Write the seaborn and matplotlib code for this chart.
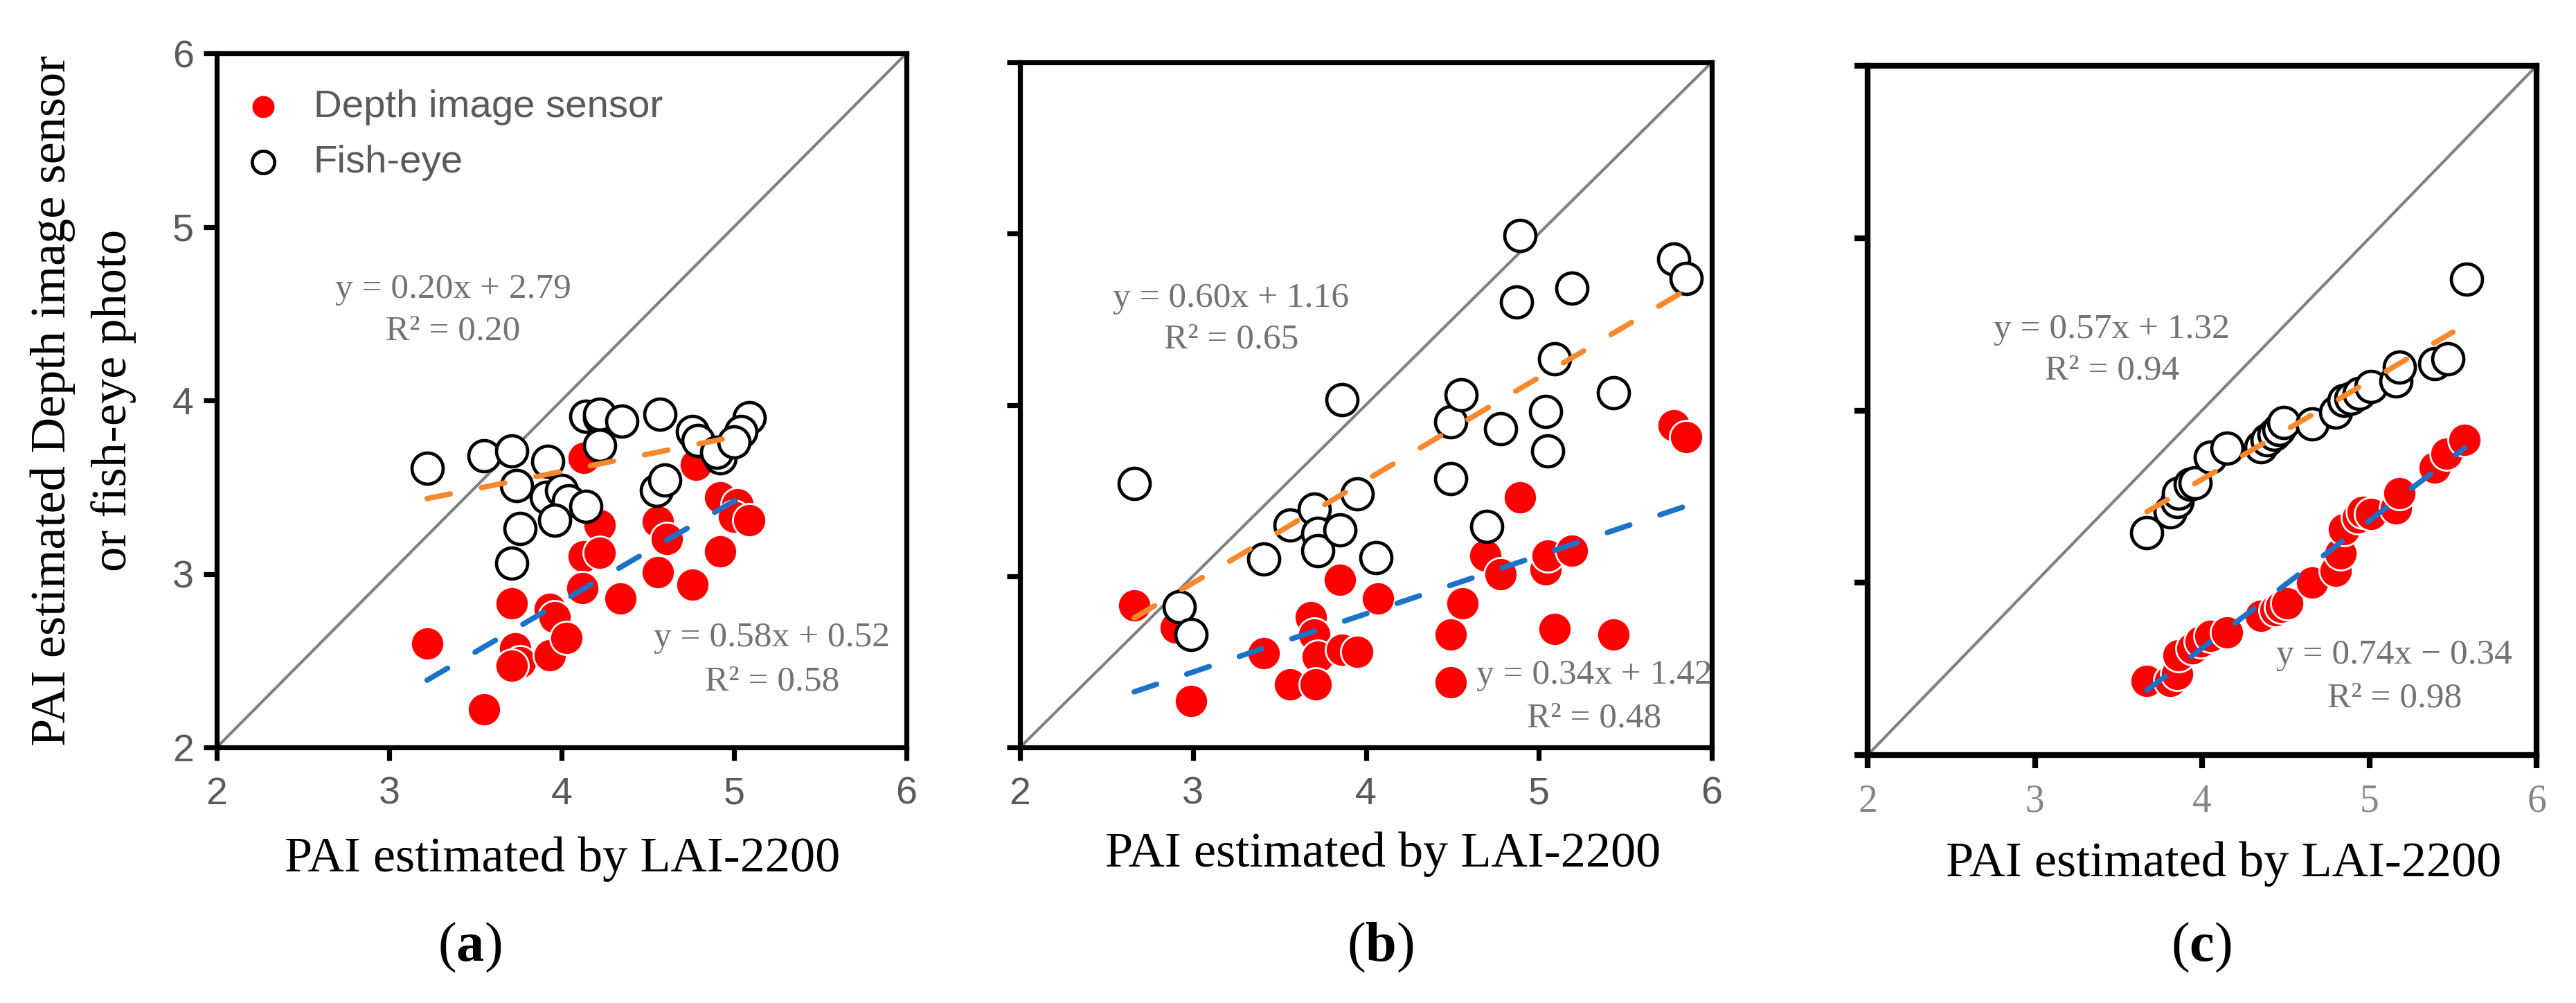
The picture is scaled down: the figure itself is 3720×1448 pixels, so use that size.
import numpy as np
import pandas as pd
import matplotlib
matplotlib.use("Agg")
import matplotlib.pyplot as plt
import seaborn as sns

# ---------------- data ----------------
# Panel (a)
a_depth_x = [3.22, 3.55, 3.71, 3.73, 3.76, 3.71, 3.93, 3.96, 3.93, 4.03, 4.13, 4.22, 4.13,
             4.22, 4.12, 4.34, 4.56, 4.61, 4.56, 4.76, 4.78, 4.92, 5.02, 5.00, 5.09, 4.92]
a_depth_y = [2.60, 2.22, 2.83, 2.57, 2.49, 2.47, 2.80, 2.75, 2.53, 2.63, 3.67, 3.28, 3.10,
             3.12, 2.92, 2.86, 3.30, 3.20, 3.01, 2.94, 3.63, 3.44, 3.40, 3.33, 3.31, 3.13]
a_fish_x = [3.22, 3.55, 3.71, 3.74, 3.76, 3.71, 3.92, 3.91, 4.00, 4.04, 4.14, 3.96, 4.14,
            4.22, 4.22, 4.35, 4.22, 4.57, 4.55, 4.60, 4.76, 4.79, 4.92, 4.90, 5.09, 5.04, 5.00]
a_fish_y = [3.61, 3.68, 3.71, 3.51, 3.26, 3.06, 3.65, 3.44, 3.48, 3.42, 3.39, 3.31, 3.91,
            3.90, 3.92, 3.88, 3.74, 3.92, 3.48, 3.54, 3.82, 3.77, 3.67, 3.70, 3.90, 3.82, 3.76]

# Panel (b)
b_depth_x = [2.66, 2.90, 2.99, 3.41, 3.56, 3.68, 3.70, 3.72, 3.71, 3.85, 3.86, 3.95, 4.07,
             4.49, 4.49, 4.56, 4.69, 4.78, 4.89, 5.04, 5.05, 5.09, 5.19, 5.43, 5.78, 5.85]
b_depth_y = [2.83, 2.70, 2.27, 2.55, 2.37, 2.76, 2.66, 2.53, 2.37, 2.98, 2.57, 2.56, 2.87,
             2.66, 2.38, 2.84, 3.12, 3.01, 3.46, 3.04, 3.12, 2.69, 3.15, 2.66, 3.88, 3.81]
b_fish_x = [2.66, 2.92, 2.99, 3.41, 3.56, 3.70, 3.72, 3.72, 3.85, 3.86, 3.95, 4.06, 4.49,
            4.49, 4.55, 4.70, 4.78, 4.87, 4.89, 5.04, 5.05, 5.09, 5.19, 5.43, 5.78, 5.85]
b_fish_y = [3.54, 2.82, 2.66, 3.10, 3.30, 3.39, 3.25, 3.15, 3.27, 4.03, 3.48, 3.11, 3.57,
            3.90, 4.06, 3.29, 3.86, 4.60, 4.99, 3.96, 3.73, 4.27, 4.68, 4.07, 4.85, 4.74]

# Panel (c)
c_depth_x = [3.67, 3.81, 3.85, 3.86, 3.94, 3.99, 4.05, 4.15, 4.35, 4.44, 4.47, 4.51, 4.66,
             4.80, 4.83, 4.85, 4.93, 4.96, 5.01, 5.16, 5.18, 5.39, 5.46, 5.57]
c_depth_y = [2.43, 2.43, 2.47, 2.58, 2.62, 2.66, 2.69, 2.71, 2.81, 2.84, 2.86, 2.88, 3.00,
             3.07, 3.17, 3.31, 3.38, 3.41, 3.40, 3.43, 3.52, 3.67, 3.75, 3.83]
c_fish_x = [3.67, 3.81, 3.85, 3.86, 3.93, 3.96, 4.05, 4.15, 4.35, 4.39, 4.43, 4.46, 4.49,
            4.66, 4.80, 4.85, 4.89, 4.94, 5.01, 5.16, 5.18, 5.39, 5.47, 5.58]
c_fish_y = [3.29, 3.41, 3.47, 3.52, 3.57, 3.58, 3.73, 3.78, 3.79, 3.83, 3.86, 3.89, 3.93,
            3.92, 3.99, 4.06, 4.07, 4.10, 4.14, 4.17, 4.25, 4.27, 4.30, 4.76]

# regression coefficients printed on the chart: (slope, intercept, R2)
depth_fit = [(0.58, 0.52, 0.58), (0.34, 1.42, 0.48), (0.74, -0.34, 0.98)]
fish_fit = [(0.20, 2.79, 0.20), (0.60, 1.16, 0.65), (0.57, 1.32, 0.94)]
fish_fit_xmax = [5.04, 5.85, 5.50]

panel_letters = ["a", "b", "c"]
axis_ticks = [2, 3, 4, 5, 6]
legend_labels = ["Depth image sensor", "Fish-eye"]
xlabel_text = "PAI estimated by LAI-2200"
ylabel_text = "PAI estimated Depth image sensor\nor fish-eye photo"

# ---------------- style ----------------
sns.set_theme(style="white")
plt.rcParams['font.family'] = ['Liberation Serif', 'DejaVu Serif']
plt.rcParams['mathtext.fontset'] = 'custom'
plt.rcParams['mathtext.rm'] = 'Liberation Serif'
plt.rcParams['mathtext.bf'] = 'Liberation Serif:bold'
plt.rcParams['mathtext.it'] = 'Liberation Serif:italic'

RED = '#ff0000'
BLUE = '#1a73c8'
ORANGE = '#f7882c'
DIAG = '#808080'
ANN = '#737373'

W, H = 3720, 1448
fig = plt.figure(figsize=(W / 200, H / 200), dpi=200)

# axes boxes in pixels: left, right, top, bottom
boxes = [(313, 1309, 77, 1079), (1473, 2472, 90, 1079), (2697, 3663, 95, 1090)]
xlabel_pos = [(812, 1240), (1997, 1233), (3211, 1247)]
letter_pos = [(678, 1368), (1993, 1368), (3179, 1368)]
ann_depth = [((5.22, 2.63), (5.22, 2.38)), ((5.32, 2.42), (5.32, 2.17)), ((5.15, 2.58), (5.15, 2.33))]
ann_fish = [((3.37, 4.64), (3.37, 4.40)), ((3.22, 4.62), (3.22, 4.38)), ((3.46, 4.47), (3.46, 4.23))]

panels = [
    (a_depth_x, a_depth_y, a_fish_x, a_fish_y),
    (b_depth_x, b_depth_y, b_fish_x, b_fish_y),
    (c_depth_x, c_depth_y, c_fish_x, c_fish_y),
]


def fmt_eq(slope, icpt):
    sign = '+' if icpt >= 0 else '\u2212'
    return f"y = {slope:.2f}x {sign} {abs(icpt):.2f}"


LW_FIT = 2.8
DASH = (4.4, 5.9)

for i, (dx, dy, fx, fy) in enumerate(panels):
    l, r, t, b = boxes[i]
    ax = fig.add_axes([l / W, 1 - b / H, (r - l) / W, (b - t) / H])
    df_d = pd.DataFrame({"x": dx, "y": dy})
    df_f = pd.DataFrame({"x": fx, "y": fy})

    # 1:1 line
    ax.axline((2, 2), slope=1, color=DIAG, lw=1.5, zorder=1)

    sns.scatterplot(data=df_d, x="x", y="y", ax=ax, s=300, color=RED,
                    edgecolor='white', linewidth=1.0, zorder=3,
                    label=legend_labels[0] if i == 0 else None)
    sns.scatterplot(data=df_f, x="x", y="y", ax=ax, s=262, facecolor='white',
                    edgecolor='black', linewidth=1.7, zorder=4,
                    label=legend_labels[1] if i == 0 else None)

    # regression lines from printed coefficients
    sd, idp, r2d = depth_fit[i]
    xs = np.linspace(min(dx), max(dx), 60)
    ax.plot(xs, sd * xs + idp, color=BLUE, lw=LW_FIT, dashes=DASH,
            dash_capstyle='round', zorder=5)
    sf, ifp, r2f = fish_fit[i]
    xs = np.linspace(min(fx), fish_fit_xmax[i], 60)
    ax.plot(xs, sf * xs + ifp, color=ORANGE, lw=LW_FIT, dashes=DASH,
            dash_capstyle='round', zorder=5)

    # annotations
    (p1, p2) = ann_fish[i]
    ax.text(*p1, fmt_eq(sf, ifp), ha='center', va='center', fontsize=18.5, color=ANN, zorder=6)
    ax.text(*p2, f"R\u00b2 = {r2f:.2f}", ha='center', va='center', fontsize=18.5, color=ANN, zorder=6)
    (p1, p2) = ann_depth[i]
    ax.text(*p1, fmt_eq(sd, idp), ha='center', va='center', fontsize=18.5, color=ANN, zorder=6)
    ax.text(*p2, f"R\u00b2 = {r2d:.2f}", ha='center', va='center', fontsize=18.5, color=ANN, zorder=6)

    ax.set_xlim(2, 6)
    ax.set_ylim(2, 6)
    ax.set_xticks(axis_ticks)
    ax.set_yticks(axis_ticks)
    spw = 2.6 if i < 2 else 3.0
    for sp in ax.spines.values():
        sp.set_visible(True)
        sp.set_color('black')
        sp.set_linewidth(spw)
    ax.tick_params(direction='out', length=7, width=spw, color='black',
                   bottom=True, left=True, pad=8)
    if i < 2:
        ax.tick_params(labelsize=20, labelcolor='#5a5a5a')
        for lab in ax.get_xticklabels() + ax.get_yticklabels():
            lab.set_family(['Liberation Sans', 'DejaVu Sans'])
    else:
        ax.tick_params(labelsize=20, labelcolor='#858585')
    if i > 0:
        ax.tick_params(labelleft=False)
    else:
        ax.tick_params(axis='y', pad=5)

    ax.set_xlabel(xlabel_text, fontsize=26, color='black')
    ax.xaxis.label.set_va('center')
    ax.xaxis.set_label_coords((xlabel_pos[i][0] - l) / (r - l),
                              (b - xlabel_pos[i][1]) / (b - t))
    if i == 0:
        ax.set_ylabel(ylabel_text, fontsize=26, color='black', linespacing=1.44)
        ax.yaxis.label.set_va('center')
        ax.yaxis.set_label_coords((120 - l) / (r - l), 0.5)
        ax.legend(loc='upper left', frameon=False, bbox_to_anchor=(0.015, 0.971),
                  prop={'family': ['Liberation Sans', 'DejaVu Sans'], 'size': 20.3},
                  labelcolor='#5a5a5a', handletextpad=0.78, labelspacing=0.5,
                  borderaxespad=0.0, borderpad=0.4, handlelength=1.03, markerscale=0.72)
    else:
        ax.set_ylabel("")
        if ax.get_legend() is not None:
            ax.get_legend().remove()

    fig.text(letter_pos[i][0] / W, 1 - letter_pos[i][1] / H,
             rf"($\mathbf{{{panel_letters[i]}}}$)", fontsize=29,
             ha='center', va='center', color='black')

fig.savefig("out.png", dpi=200, facecolor='white')
